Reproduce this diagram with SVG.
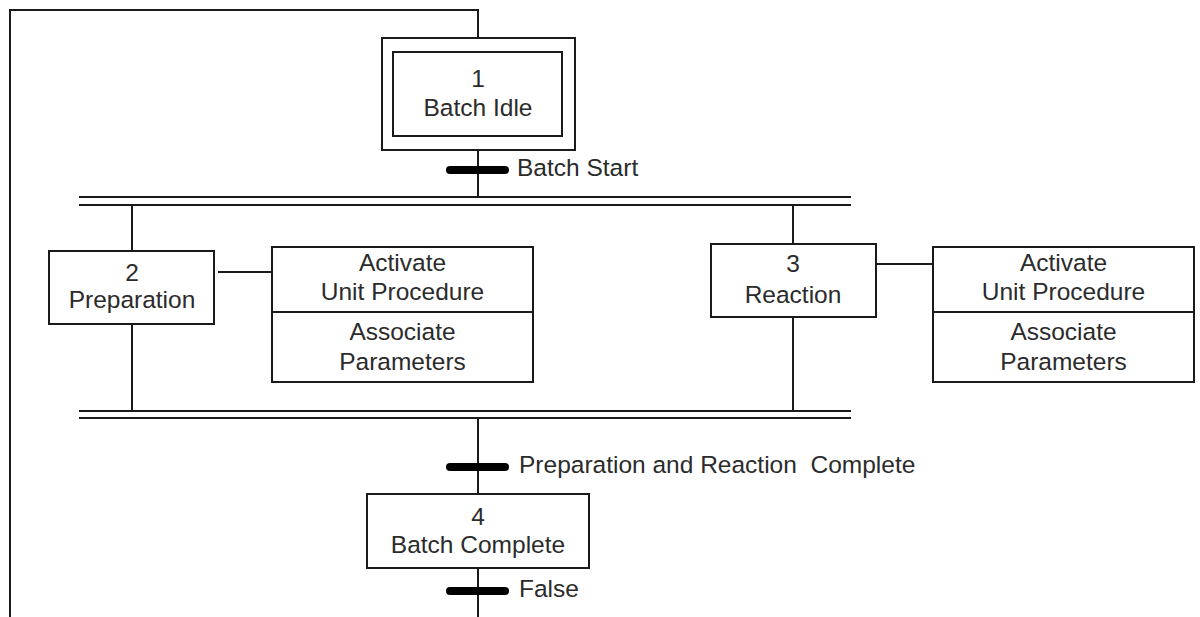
<svg xmlns="http://www.w3.org/2000/svg" width="1200" height="617" viewBox="0 0 1200 617">
  <style>
    .ln { fill: none; stroke: #1a1a1a; stroke-width: 2; }
    .box { fill: #ffffff; stroke: #1a1a1a; stroke-width: 2; }
    .bar { stroke: #000000; stroke-width: 8; stroke-linecap: round; }
    .t { font-family: "Liberation Sans", Arial, sans-serif; font-size: 24.5px; fill: #2b2b2b; }
    .c { text-anchor: middle; }
  </style>
  <rect width="1200" height="617" fill="#ffffff"/>

  <!-- connectors: step links, parallel branches, action links, loop back -->
  <g id="connectors">
    <path class="ln" d="M10,617 V10 H478 V38"/>
    <line class="ln" x1="478" y1="150" x2="478" y2="197"/>
    <line class="ln" x1="79" y1="197" x2="851" y2="197"/>
    <line class="ln" x1="79" y1="205" x2="851" y2="205"/>
    <line class="ln" x1="132" y1="205" x2="132" y2="251"/>
    <line class="ln" x1="132" y1="324" x2="132" y2="411"/>
    <line class="ln" x1="793" y1="205" x2="793" y2="244"/>
    <line class="ln" x1="793" y1="317" x2="793" y2="411"/>
    <line class="ln" x1="79" y1="411" x2="851" y2="411"/>
    <line class="ln" x1="79" y1="418" x2="851" y2="418"/>
    <line class="ln" x1="478" y1="418" x2="478" y2="494"/>
    <line class="ln" x1="478" y1="568" x2="478" y2="617"/>
    <line class="ln" x1="218" y1="272" x2="272" y2="272"/>
    <line class="ln" x1="876" y1="264" x2="933" y2="264"/>
  </g>

  <!-- transitions -->
  <g id="t-batch-start">
    <line class="bar" x1="450" y1="170" x2="505" y2="170"/>
    <text class="t" x="517" y="176">Batch Start</text>
  </g>
  <g id="t-prep-reaction-complete">
    <line class="bar" x1="450" y1="467" x2="505" y2="467"/>
    <text class="t" x="519" y="473" xml:space="preserve">Preparation and Reaction  Complete</text>
  </g>
  <g id="t-false">
    <line class="bar" x1="450" y1="591" x2="505" y2="591"/>
    <text class="t" x="519" y="597">False</text>
  </g>

  <!-- steps -->
  <g id="step-1">
    <rect class="box" x="382" y="38" width="193" height="112"/>
    <rect class="box" x="393" y="52" width="169" height="84"/>
    <text class="t c" x="478" y="87">1</text>
    <text class="t c" x="478" y="116">Batch Idle</text>
  </g>
  <g id="step-2">
    <rect class="box" x="49" y="251" width="165" height="73"/>
    <text class="t c" x="132" y="281">2</text>
    <text class="t c" x="132" y="308">Preparation</text>
  </g>
  <g id="step-3">
    <rect class="box" x="711" y="244" width="165" height="73"/>
    <text class="t c" x="793" y="272">3</text>
    <text class="t c" x="793" y="303">Reaction</text>
  </g>
  <g id="step-4">
    <rect class="box" x="367" y="494" width="222" height="74"/>
    <text class="t c" x="478" y="525">4</text>
    <text class="t c" x="478" y="553">Batch Complete</text>
  </g>

  <!-- action blocks -->
  <g id="actions-2">
    <rect class="box" x="272" y="247" width="261" height="135"/>
    <line class="ln" x1="272" y1="312" x2="533" y2="312"/>
    <text class="t c" x="402.5" y="271">Activate</text>
    <text class="t c" x="402.5" y="300">Unit Procedure</text>
    <text class="t c" x="402.5" y="340">Associate</text>
    <text class="t c" x="402.5" y="370">Parameters</text>
  </g>
  <g id="actions-3">
    <rect class="box" x="933" y="247" width="261" height="135"/>
    <line class="ln" x1="933" y1="312" x2="1194" y2="312"/>
    <text class="t c" x="1063.5" y="271">Activate</text>
    <text class="t c" x="1063.5" y="300">Unit Procedure</text>
    <text class="t c" x="1063.5" y="340">Associate</text>
    <text class="t c" x="1063.5" y="370">Parameters</text>
  </g>
</svg>
